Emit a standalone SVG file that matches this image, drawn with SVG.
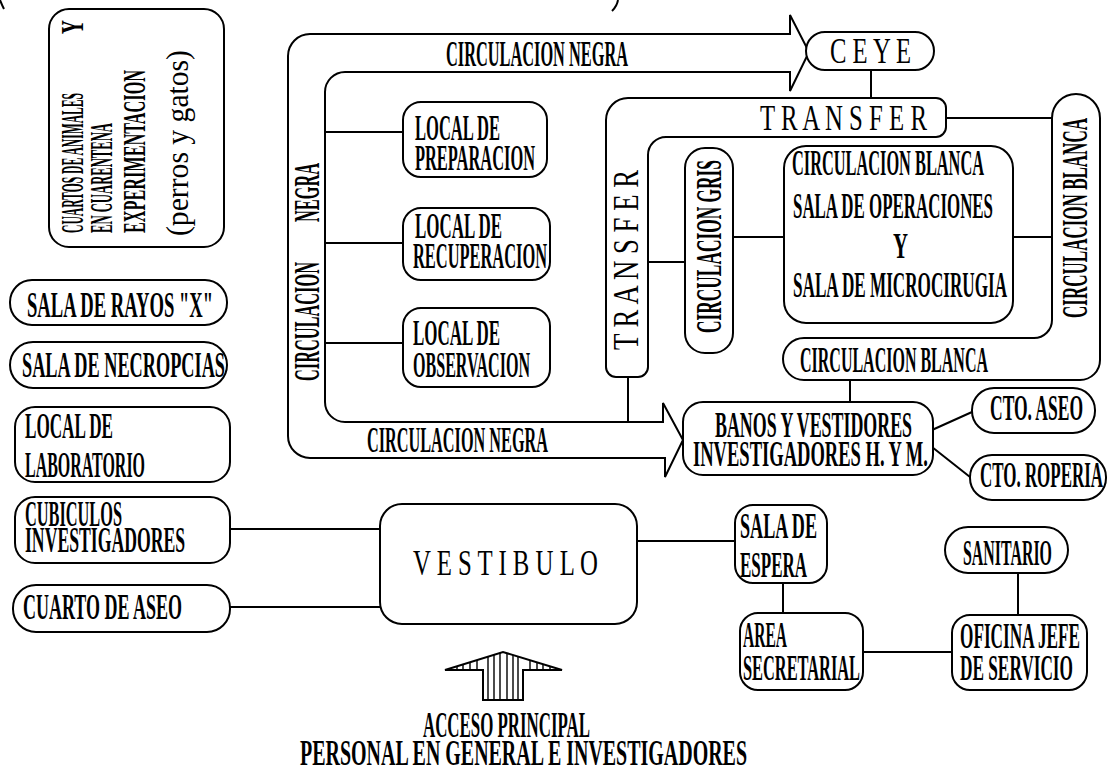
<svg xmlns="http://www.w3.org/2000/svg" width="1108" height="784" viewBox="0 0 1108 784">
<style>
.box{fill:#fff;stroke:#000;stroke-width:2}
.ln{fill:none;stroke:#000;stroke-width:2}
.h{fill:none;stroke:#000;stroke-width:1.4}
.t{font-family:"Liberation Serif",serif;font-size:35px;font-weight:bold;fill:#000}
.s{font-family:"Liberation Serif",serif;font-size:31px;font-weight:bold;fill:#000}
.p{font-family:"Liberation Serif",serif;font-size:31px;fill:#000}
.r{font-family:"Liberation Serif",serif;font-size:36px;fill:#000}
</style>
<rect width="1108" height="784" fill="#fff"/>
<path class="ln" d="M0 0 Q2 5 4 9"/>
<path class="ln" d="M618 0 Q617 6 612 11"/>
<g id="connectors">
<path class="ln" d="M790 34 H310 A22 22 0 0 0 288 56 V436 A22 22 0 0 0 310 458 H665 V477 L683 440 L663 403 V422 H345 A20 20 0 0 1 325 402 V92 A20 20 0 0 1 345 72 H790 V91 L809 52 L790 15 Z"/>
<text class="t" x="446" y="66" textLength="182" lengthAdjust="spacingAndGlyphs">CIRCULACION NEGRA</text>
<text class="t" x="367" y="452" textLength="181" lengthAdjust="spacingAndGlyphs">CIRCULACION NEGRA</text>
<text class="t" transform="translate(319,381) rotate(-90)" textLength="119" lengthAdjust="spacingAndGlyphs">CIRCULACION</text>
<text class="t" transform="translate(319,222) rotate(-90)" textLength="59" lengthAdjust="spacingAndGlyphs">NEGRA</text>
<path class="ln" d="M325 132 H403 M325 243 H403 M325 343 H403"/>
<path class="ln" d="M628 377 V422"/>
<path class="ln" d="M648 262 H685 M733 237 H784 M1013 237 H1052"/>
<path class="ln" d="M946 118 H1052"/>
<path class="ln" d="M871 70 V98"/>
<path class="ln" d="M850 380 V402"/>
<path class="ln" d="M932 430 L972 412 M932 447 L970 477"/>
<path class="ln" d="M230 529 H380 M230 607 H381"/>
<path class="ln" d="M637 541 H735"/>
<path class="ln" d="M783 583 V613"/>
<path class="ln" d="M863 652 H952"/>
<path class="ln" d="M1018 573 V615"/>
</g>
<g id="cuartos">
<rect class="box" x="49" y="9" width="175" height="238" rx="20"/>
<text class="s" transform="translate(83,233) rotate(-90)" textLength="140" lengthAdjust="spacingAndGlyphs">CUARTOS DE ANIMALES</text>
<text class="s" transform="translate(83,34) rotate(-90)" textLength="14" lengthAdjust="spacingAndGlyphs">Y</text>
<text class="s" transform="translate(112,233) rotate(-90)" textLength="110" lengthAdjust="spacingAndGlyphs">EN CUARENTENA</text>
<text class="s" transform="translate(145,233) rotate(-90)" textLength="163" lengthAdjust="spacingAndGlyphs">EXPERIMENTACION</text>
<text class="p" transform="translate(188,236) rotate(-90)" textLength="186" lengthAdjust="spacingAndGlyphs">(perros  y  gatos)</text>
</g>
<g id="rayos">
<rect class="box" x="10" y="280" width="217" height="45" rx="22"/>
<text class="t" x="27" y="317" textLength="186" lengthAdjust="spacingAndGlyphs">SALA DE RAYOS "X"</text>
</g>
<g id="necropcias">
<rect class="box" x="10" y="342" width="217" height="46" rx="23"/>
<text class="t" x="22" y="377" textLength="203" lengthAdjust="spacingAndGlyphs">SALA DE NECROPCIAS</text>
</g>
<g id="laboratorio">
<rect class="box" x="15" y="407" width="215" height="75" rx="20"/>
<text class="t" x="25" y="438" textLength="88" lengthAdjust="spacingAndGlyphs">LOCAL DE</text>
<text class="t" x="25" y="477" textLength="120" lengthAdjust="spacingAndGlyphs">LABORATORIO</text>
</g>
<g id="cubiculos">
<rect class="box" x="15" y="497" width="215" height="66" rx="20"/>
<text class="t" x="25" y="526" textLength="97" lengthAdjust="spacingAndGlyphs">CUBICULOS</text>
<text class="t" x="25" y="552" textLength="160" lengthAdjust="spacingAndGlyphs">INVESTIGADORES</text>
</g>
<g id="cuarto-aseo">
<rect class="box" x="13" y="585" width="217" height="47" rx="23"/>
<text class="t" x="23" y="619" textLength="159" lengthAdjust="spacingAndGlyphs">CUARTO DE ASEO</text>
</g>
<g id="preparacion">
<rect class="box" x="403" y="102" width="144" height="75" rx="18"/>
<text class="t" x="415" y="140" textLength="85" lengthAdjust="spacingAndGlyphs">LOCAL DE</text>
<text class="t" x="415" y="170" textLength="120" lengthAdjust="spacingAndGlyphs">PREPARACION</text>
</g>
<g id="recuperacion">
<rect class="box" x="403" y="208" width="147" height="72" rx="18"/>
<text class="t" x="415" y="238" textLength="87" lengthAdjust="spacingAndGlyphs">LOCAL DE</text>
<text class="t" x="413" y="268" textLength="134" lengthAdjust="spacingAndGlyphs">RECUPERACION</text>
</g>
<g id="observacion">
<rect class="box" x="403" y="308" width="147" height="79" rx="18"/>
<text class="t" x="413" y="345" textLength="87" lengthAdjust="spacingAndGlyphs">LOCAL DE</text>
<text class="t" x="413" y="377" textLength="117" lengthAdjust="spacingAndGlyphs">OBSERVACION</text>
</g>
<g id="ceye">
<rect class="box" x="806" y="32" width="128" height="38" rx="19"/>
<text class="r" x="830" y="63" textLength="81" lengthAdjust="spacingAndGlyphs">C E Y E</text>
</g>
<g id="transfer">
<path class="box" d="M606 360 V120 A22 22 0 0 1 628 98 H936 A10 10 0 0 1 946 108 V127 A10 10 0 0 1 936 137 H666 A18 18 0 0 0 648 155 V367 A10 10 0 0 1 638 377 H616 A10 10 0 0 1 606 367 Z"/>
<text class="r" x="760" y="130" textLength="167" lengthAdjust="spacingAndGlyphs">T R A N S F E R</text>
<text class="r" transform="translate(638,350) rotate(-90)" textLength="180" lengthAdjust="spacingAndGlyphs">T R A N S F E R</text>
</g>
<g id="circulacion-gris">
<rect class="box" x="685" y="148" width="48" height="205" rx="20"/>
<text class="t" transform="translate(721,333) rotate(-90)" textLength="173" lengthAdjust="spacingAndGlyphs">CIRCULACION GRIS</text>
</g>
<g id="sala-operaciones">
<rect class="box" x="784" y="146" width="229" height="177" rx="22"/>
<text class="t" x="792" y="175" textLength="192" lengthAdjust="spacingAndGlyphs">CIRCULACION BLANCA</text>
<text class="t" x="793" y="218" textLength="200" lengthAdjust="spacingAndGlyphs">SALA DE OPERACIONES</text>
<text class="t" x="893" y="258" textLength="15" lengthAdjust="spacingAndGlyphs">Y</text>
<text class="t" x="793" y="297" textLength="214" lengthAdjust="spacingAndGlyphs">SALA DE MICROCIRUGIA</text>
</g>
<g id="circulacion-blanca">
<path class="box" d="M1076 94 A24 24 0 0 1 1100 118 V360 A20 20 0 0 1 1080 380 H804 A21 21 0 0 1 804 338 H1034 A18 18 0 0 0 1052 320 V118 A24 24 0 0 1 1076 94 Z"/>
<text class="t" transform="translate(1087,318) rotate(-90)" textLength="200" lengthAdjust="spacingAndGlyphs">CIRCULACION BLANCA</text>
<text class="t" x="800" y="372" textLength="188" lengthAdjust="spacingAndGlyphs">CIRCULACION BLANCA</text>
</g>
<g id="banos">
<rect class="box" x="683" y="402" width="250" height="73" rx="20"/>
<text class="t" x="715" y="437" textLength="197" lengthAdjust="spacingAndGlyphs">BANOS Y VESTIDORES</text>
<text class="t" x="693" y="466" textLength="235" lengthAdjust="spacingAndGlyphs">INVESTIGADORES H. Y  M.</text>
</g>
<g id="cto-aseo">
<rect class="box" x="972" y="388" width="123" height="45" rx="22"/>
<text class="t" x="990" y="420" textLength="93" lengthAdjust="spacingAndGlyphs">CTO. ASEO</text>
</g>
<g id="cto-roperia">
<rect class="box" x="970" y="455" width="136" height="45" rx="22"/>
<text class="t" x="980" y="487" textLength="123" lengthAdjust="spacingAndGlyphs">CTO. ROPERIA</text>
</g>
<g id="vestibulo">
<rect class="box" x="380" y="504" width="257" height="120" rx="22"/>
<text class="r" x="413" y="575" textLength="185" lengthAdjust="spacingAndGlyphs">V E S T I B U L O</text>
</g>
<g id="espera">
<rect class="box" x="735" y="505" width="92" height="78" rx="18"/>
<text class="t" x="740" y="538" textLength="77" lengthAdjust="spacingAndGlyphs">SALA DE</text>
<text class="t" x="740" y="577" textLength="67" lengthAdjust="spacingAndGlyphs">ESPERA</text>
</g>
<g id="secretarial">
<rect class="box" x="740" y="613" width="123" height="77" rx="18"/>
<text class="t" x="743" y="647" textLength="44" lengthAdjust="spacingAndGlyphs">AREA</text>
<text class="t" x="743" y="680" textLength="117" lengthAdjust="spacingAndGlyphs">SECRETARIAL</text>
</g>
<g id="sanitario">
<rect class="box" x="945" y="527" width="123" height="46" rx="23"/>
<text class="t" x="963" y="565" textLength="89" lengthAdjust="spacingAndGlyphs">SANITARIO</text>
</g>
<g id="oficina">
<rect class="box" x="952" y="615" width="135" height="75" rx="18"/>
<text class="t" x="960" y="648" textLength="120" lengthAdjust="spacingAndGlyphs">OFICINA JEFE</text>
<text class="t" x="960" y="680" textLength="113" lengthAdjust="spacingAndGlyphs">DE SERVICIO</text>
</g>
<g id="acceso">
<path class="box" d="M445 670 L503 652 L562 670 H523 V700 H483 V670 Z"/>
<path class="h" d="M457 666.3 V670 M463 664.4 V670 M470 662.2 V670 M477 660 V670 M530 660.2 V670 M537 662.4 V670 M543 664.2 V670 M550 666.3 V670 M488 656.7 V700 M494 654.8 V700 M500 652.9 V700 M507 653.2 V700 M513 655 V700 M518 656.6 V700"/>
<text class="t" x="423" y="737" textLength="167" lengthAdjust="spacingAndGlyphs">ACCESO PRINCIPAL</text>
<text class="t" x="300" y="765" textLength="447" lengthAdjust="spacingAndGlyphs">PERSONAL EN GENERAL E INVESTIGADORES</text>
</g>
</svg>
